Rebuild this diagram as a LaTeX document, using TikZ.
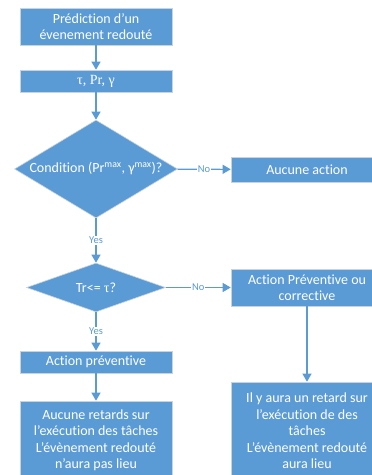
\documentclass[tikz,border=0pt]{standalone}
\usepackage{fontspec}
\setmainfont{Carlito}[Ligatures=NoCommon]
\newfontfamily\serif{Liberation Serif}
\usetikzlibrary{shapes.geometric,arrows.meta}
\definecolor{obl}{HTML}{5B9BD5}
\definecolor{edg}{HTML}{C9D3DE}
\tikzset{
  box/.style={rectangle, fill=obl, draw=edg, line width=0.6pt, text=white, align=center,
    minimum width=152pt, inner sep=0pt, font=\fontsize{14}{16.5}\selectfont},
  dia/.style={diamond, fill=obl, draw=edg, line width=0.6pt, text=white, inner sep=0pt,
    font=\fontsize{14}{16.5}\selectfont},
  conn/.style={draw=obl, line width=1.1pt, -{Triangle[width=9pt,length=8pt]}},
  lab/.style={fill=white, text=obl, inner sep=1pt, font=\fontsize{10.5}{12}\selectfont}
}
\begin{document}
\begin{tikzpicture}[x=1pt,y=-1pt]
\useasboundingbox (0,0) rectangle (372,475);
\clip (0,0) rectangle (372,475);
\node[box, minimum height=37pt] (p1) at (96,26.5) {Prédiction d’un\\évenement redouté};
\node[box, minimum height=22pt] (p2) at (96,81) {\serif τ, Pr, γ};
\node[dia, minimum width=163pt, minimum height=98pt] (d1) at (96,169) {\makebox[0pt]{Condition (Pr\textsuperscript{max}, γ\textsuperscript{max})?}};
\node[box, minimum height=25pt] (a1) at (307,169.5) {Aucune action};
\node[dia, minimum width=139pt, minimum height=49pt] (d2) at (96,287.5) {\makebox[0pt]{Tr<= {\serif τ}?}};
\node[box, minimum height=37pt] (a2) at (307,287.5) {Action Préventive ou\\corrective};
\node[box, minimum height=22pt] (p3) at (96,362) {Action préventive};
\node[box, minimum height=79pt] (p4) at (96,440.5) {Aucune retards sur\\l’exécution des tâches\\L’évènement redouté\\n’aura pas lieu};
\node[box, minimum height=98pt] (a3) at (307,431) {Il y aura un retard sur\\l’exécution de des\\tâches\\L’évènement redouté\\aura lieu};
\draw[conn] (p1) -- (p2);
\draw[conn] (p2) -- (d1);
\draw[conn] (d1) -- node[lab]{No} (a1);
\draw[conn] (d1) -- node[lab, pos=0.5]{Yes} (d2);
\draw[conn] (d2) -- node[lab]{No} (a2);
\draw[conn] (d2) -- node[lab]{Yes} (p3);
\draw[conn] (p3) -- (p4);
\draw[conn] (a2) -- (a3);
\end{tikzpicture}
\end{document}
